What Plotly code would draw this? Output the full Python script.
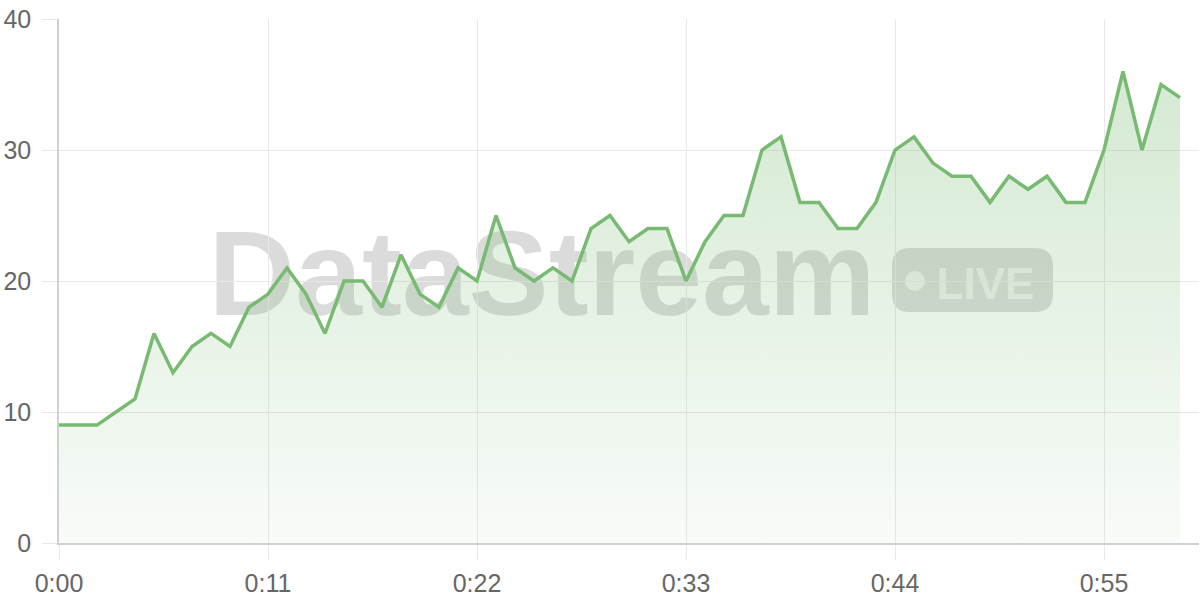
import plotly.graph_objects as go

# data
seconds = list(range(60))
values = [9, 9, 9, 10, 11, 16, 13, 15, 16, 15,
          18, 19, 21, 19, 16, 20, 20, 18, 22, 19,
          18, 21, 20, 25, 21, 20, 21, 20, 24, 25,
          23, 24, 24, 20, 23, 25, 25, 30, 31, 26,
          26, 24, 24, 26, 30, 31, 29, 28, 28, 26,
          28, 27, 28, 26, 26, 30, 36, 30, 35, 34]
x_tick_vals = [0, 11, 22, 33, 44, 55]
x_tick_text = ["0:00", "0:11", "0:22", "0:33", "0:44", "0:55"]
y_tick_vals = [0, 10, 20, 30, 40]
watermark_text = "DataStream"
badge_text = "LIVE"

LINE = "rgb(120,186,114)"
GRID = "#e8e8e8"
AXIS = "#d0d0d0"
TICKFONT = dict(family="Liberation Sans", size=25, color="#666666")
WM = "rgba(0,0,0,0.14)"

fig = go.Figure()
fig.add_trace(go.Scatter(
    x=seconds, y=values, mode="lines",
    line=dict(color=LINE, width=3.5, shape="linear"),
    fill="tozeroy",
    fillgradient=dict(type="vertical", start=0, stop=36,
                      colorscale=[[0, "rgba(120,186,114,0.05)"],
                                  [1, "rgba(120,186,114,0.32)"]]),
    hoverinfo="skip", showlegend=False,
))

# watermark (below traces)
def rounded_rect(x0, y0, x1, y1, r):
    return (f"M {x0+r},{y0} L {x1-r},{y0} Q {x1},{y0} {x1},{y0+r} "
            f"L {x1},{y1-r} Q {x1},{y1} {x1-r},{y1} L {x0+r},{y1} "
            f"Q {x0},{y1} {x0},{y1-r} L {x0},{y0+r} Q {x0},{y0} {x0+r},{y0} Z")

pix = dict(xref="paper", yref="paper", xsizemode="pixel", ysizemode="pixel",
           xanchor=0.5, yanchor=0.5, layer="below")
fig.add_shape(type="rect", x0=0.3737, x1=0.4737, y0=0.509, y1=0.565,
              xref="paper", yref="paper", layer="below",
              line=dict(width=0), fillcolor="rgba(0,0,0,0)",
              label=dict(text=watermark_text, textposition="middle center",
                         font=dict(family="Liberation Sans", size=120, weight="bold", color=WM)))
fig.add_shape(type="path", path=rounded_rect(263, -31, 424, 33, 18),
              line=dict(width=0), fillcolor=WM, **pix)
fig.add_shape(type="circle", x0=276, x1=296, y0=-10, y1=10,
              line=dict(width=0), fillcolor="rgba(255,255,255,0.6)", **pix)
fig.add_shape(type="rect", x0=0.7627, x1=0.8627, y0=0.48, y1=0.526,
              xref="paper", yref="paper", layer="below",
              line=dict(width=0), fillcolor="rgba(0,0,0,0)",
              label=dict(text=badge_text, textposition="middle center",
                         font=dict(family="Liberation Sans", size=44, weight="bold",
                                   color="rgba(255,255,255,0.6)")))

fig.update_layout(
    width=1200, height=600,
    margin=dict(l=59, r=1, t=19, b=57, autoexpand=False),
    paper_bgcolor="white", plot_bgcolor="white",
    xaxis=dict(range=[0, 60], tickvals=x_tick_vals, ticktext=x_tick_text,
               showgrid=True, gridcolor=GRID, gridwidth=1,
               showline=True, linecolor=AXIS, linewidth=1.5,
               ticks="outside", ticklen=15, tickcolor=GRID, tickwidth=1,
               tickfont=TICKFONT, zeroline=False, fixedrange=True,
               ticklabelstandoff=2),
    yaxis=dict(range=[0, 40], tickvals=y_tick_vals,
               showgrid=True, gridcolor=GRID, gridwidth=1,
               showline=True, linecolor=AXIS, linewidth=1.5,
               ticks="outside", ticklen=15, tickcolor=GRID, tickwidth=1,
               tickfont=TICKFONT, zeroline=False, fixedrange=True,
               ticklabelstandoff=6),
)

fig.write_html("out.html", config={"displayModeBar": False},
               post_script="document.body.style.margin='0';document.body.style.overflow='hidden';")
